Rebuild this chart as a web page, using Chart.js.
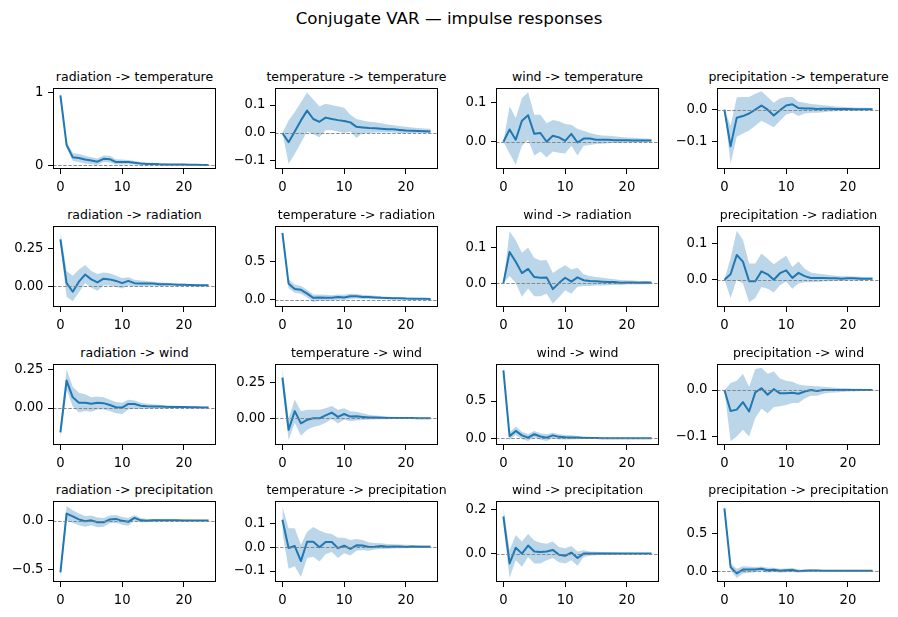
<!DOCTYPE html>
<html>
<head>
<meta charset="utf-8">
<script src="https://cdn.jsdelivr.net/npm/chart.js@4.4.1/dist/chart.umd.min.js"></script>
<style>
  body { margin: 0; background: #fff; }
  #fig { position: relative; width: 898px; height: 617px; overflow: hidden;
         font-family: "DejaVu Sans", sans-serif; color: #000; }
  .suptitle { position: absolute; left: 0; top: 10px; width: 898px; text-align: center;
              font-size: 16.7px; line-height: 1; }
  .ax-title { position: absolute; font-size: 12.5px; line-height: 1; white-space: nowrap;
              transform: translateX(-50%); }
  .panel { position: absolute; }
</style>
</head>
<body>
<div id="fig">
  <div class="suptitle">Conjugate VAR — impulse responses</div>
</div>
<script>
/* ============================================================
   Conjugate VAR — 4x4 grid of impulse responses with bands
   ============================================================ */

const SHOCKS = ['radiation', 'temperature', 'wind', 'precipitation'];     // columns
const RESPONSES = ['temperature', 'radiation', 'wind', 'precipitation'];  // rows
const HORIZONS = [0, 1, 2, 3, 4, 5, 6, 7, 8, 9, 10, 11, 12, 13, 14, 15, 16, 17, 18, 19, 20, 21, 22, 23, 24];
const X_TICKS = [0, 10, 20];

// ─── Responses of temperature ─────────────────────────────────────────────────
const RAD_TEMP    = [0.96, 0.28, 0.11, 0.10, 0.08, 0.065, 0.05, 0.09, 0.085, 0.045, 0.045, 0.045, 0.035, 0.025, 0.02, 0.02, 0.015, 0.012, 0.01, 0.01, 0.01, 0.008, 0.007, 0.006, 0.005];
const RAD_TEMP_LO = [0.93, 0.24, 0.06, 0.045, 0.025, 0.02, 0.005, 0.045, 0.04, 0.01, 0.01, 0.015, 0.01, 0.005, 0.003, 0.003, 0.002, 0.001, 0.001, 0.001, 0.001, 0.001, 0.001, 0.001, 0.001];
const RAD_TEMP_HI = [1.0, 0.32, 0.17, 0.155, 0.13, 0.11, 0.095, 0.135, 0.13, 0.085, 0.08, 0.075, 0.06, 0.045, 0.038, 0.035, 0.028, 0.024, 0.02, 0.018, 0.017, 0.014, 0.012, 0.011, 0.01];

const TEMP_TEMP    = [0, -0.033, 0.005, 0.045, 0.08, 0.05, 0.04, 0.055, 0.05, 0.046, 0.043, 0.038, 0.022, 0.02, 0.018, 0.017, 0.015, 0.013, 0.013, 0.011, 0.009, 0.008, 0.007, 0.006, 0.005];
const TEMP_TEMP_LO = [0, -0.11, -0.075, -0.035, 0.005, -0.005, -0.015, 0.01, 0.01, 0.005, 0, 0.005, -0.018, 0, 0, 0.002, 0.002, 0.002, 0.002, 0, 0, 0, 0, 0, 0];
const TEMP_TEMP_HI = [0, 0.045, 0.075, 0.11, 0.145, 0.12, 0.095, 0.105, 0.1, 0.095, 0.09, 0.065, 0.05, 0.045, 0.04, 0.038, 0.035, 0.03, 0.028, 0.025, 0.022, 0.02, 0.018, 0.016, 0.015];

const WIND_TEMP    = [0, 0.031, 0.005, 0.053, 0.067, 0.02, 0.022, 0, 0.015, 0.011, 0.002, 0.02, -0.002, 0.008, 0.008, 0.005, 0.005, 0.005, 0.004, 0.004, 0.004, 0.003, 0.003, 0.003, 0.003];
const WIND_TEMP_LO = [0, -0.03, -0.058, -0.01, 0.005, -0.035, -0.025, -0.04, -0.025, -0.028, -0.03, -0.01, -0.035, -0.01, -0.008, -0.006, -0.005, -0.004, -0.003, -0.003, -0.002, -0.002, -0.001, -0.001, -0.001];
const WIND_TEMP_HI = [0, 0.09, 0.06, 0.11, 0.125, 0.068, 0.068, 0.047, 0.055, 0.052, 0.045, 0.043, 0.032, 0.028, 0.022, 0.018, 0.016, 0.015, 0.014, 0.012, 0.011, 0.01, 0.009, 0.008, 0.007];

const PREC_TEMP    = [0, -0.115, -0.025, -0.02, -0.012, 0, 0.013, 0, -0.018, -0.002, 0.013, 0.017, 0.005, 0.004, 0.004, 0.002, 0.003, 0.003, 0.002, 0.002, 0.002, 0.001, 0.001, 0.001, 0.001];
const PREC_TEMP_LO = [0, -0.17, -0.085, -0.075, -0.065, -0.05, -0.035, -0.045, -0.055, -0.035, -0.015, -0.01, -0.02, -0.012, -0.01, -0.01, -0.008, -0.006, -0.005, -0.004, -0.003, -0.003, -0.002, -0.002, -0.002];
const PREC_TEMP_HI = [0, -0.05, 0.039, 0.04, 0.04, 0.05, 0.058, 0.04, 0.022, 0.035, 0.04, 0.04, 0.025, 0.022, 0.018, 0.016, 0.014, 0.012, 0.01, 0.009, 0.008, 0.007, 0.006, 0.006, 0.005];

// ─── Responses of radiation ───────────────────────────────────────────────────
const RAD_RAD    = [0.31, 0.02, -0.037, 0.03, 0.077, 0.045, 0.025, 0.05, 0.045, 0.035, 0.02, 0.035, 0.02, 0.017, 0.017, 0.017, 0.013, 0.012, 0.012, 0.01, 0.009, 0.008, 0.007, 0.006, 0.006];
const RAD_RAD_LO = [0.27, -0.07, -0.1, -0.04, 0.02, -0.01, -0.03, 0.005, 0.005, -0.005, -0.015, 0.005, -0.002, 0, 0.002, 0.003, 0.002, 0.002, 0.003, 0.002, 0.002, 0.002, 0.002, 0.001, 0.002];
const RAD_RAD_HI = [0.364, 0.1, 0.07, 0.11, 0.14, 0.1, 0.08, 0.09, 0.085, 0.07, 0.055, 0.06, 0.042, 0.038, 0.034, 0.03, 0.026, 0.022, 0.02, 0.018, 0.016, 0.014, 0.012, 0.011, 0.01];

const TEMP_RAD    = [0.878, 0.21, 0.14, 0.13, 0.08, 0.025, 0.03, 0.025, 0.025, 0.035, 0.03, 0.045, 0.045, 0.035, 0.035, 0.03, 0.025, 0.022, 0.02, 0.018, 0.015, 0.014, 0.012, 0.011, 0.01];
const TEMP_RAD_LO = [0.83, 0.15, 0.09, 0.08, 0.03, -0.03, -0.01, -0.015, -0.01, 0, -0.005, 0.01, 0.015, 0.01, 0.01, 0.008, 0.006, 0.005, 0.004, 0.004, 0.003, 0.003, 0.002, 0.002, 0.002];
const TEMP_RAD_HI = [0.92, 0.27, 0.2, 0.18, 0.13, 0.07, 0.07, 0.065, 0.06, 0.07, 0.065, 0.08, 0.075, 0.065, 0.06, 0.052, 0.045, 0.04, 0.036, 0.032, 0.028, 0.025, 0.022, 0.02, 0.018];

const WIND_RAD    = [0, 0.087, 0.06, 0.028, 0.04, 0.017, 0.015, 0.016, -0.017, 0, 0.015, 0.004, 0.016, 0.008, 0.006, 0.005, 0.004, 0.003, 0.003, 0.001, 0.002, 0.002, 0.001, 0.002, 0.001];
const WIND_RAD_LO = [0, 0.02, 0, -0.038, -0.015, -0.037, -0.037, -0.03, -0.057, -0.04, -0.02, -0.03, -0.01, -0.008, -0.008, -0.007, -0.007, -0.006, -0.005, -0.006, -0.004, -0.004, -0.004, -0.003, -0.003];
const WIND_RAD_HI = [0, 0.145, 0.12, 0.085, 0.1, 0.07, 0.063, 0.065, 0.028, 0.04, 0.05, 0.038, 0.043, 0.025, 0.02, 0.017, 0.015, 0.013, 0.011, 0.009, 0.008, 0.007, 0.006, 0.006, 0.005];

const PREC_RAD    = [0, 0.015, 0.068, 0.05, -0.004, -0.004, 0.023, 0.015, 0, 0.018, 0.026, 0.005, 0.019, 0.01, 0.005, 0.005, 0.005, 0.004, 0.004, 0.003, 0.004, 0.004, 0.003, 0.003, 0.003];
const PREC_RAD_LO = [0, -0.05, 0, -0.01, -0.062, -0.05, -0.02, -0.025, -0.035, -0.015, -0.005, -0.025, -0.01, -0.007, -0.007, -0.006, -0.005, -0.004, -0.003, -0.003, -0.002, -0.002, -0.002, -0.001, -0.001];
const PREC_RAD_HI = [0, 0.06, 0.135, 0.11, 0.045, 0.045, 0.072, 0.058, 0.043, 0.055, 0.066, 0.035, 0.05, 0.03, 0.02, 0.017, 0.015, 0.013, 0.011, 0.01, 0.01, 0.009, 0.008, 0.007, 0.007];

// ─── Responses of wind ────────────────────────────────────────────────────────
const RAD_WIND    = [-0.16, 0.18, 0.07, 0.035, 0.035, 0.028, 0.035, 0.032, 0.02, 0.005, 0.003, 0.027, 0.026, 0.015, 0.012, 0.01, 0.01, 0.008, 0.007, 0.006, 0.006, 0.005, 0.005, 0.004, 0.004];
const RAD_WIND_LO = [-0.21, 0.12, 0.01, -0.03, -0.02, -0.025, -0.01, -0.01, -0.02, -0.035, -0.04, -0.01, -0.005, -0.005, -0.004, -0.004, -0.003, -0.003, -0.002, -0.002, -0.001, -0.001, 0, 0, 0];
const RAD_WIND_HI = [-0.12, 0.254, 0.14, 0.1, 0.09, 0.07, 0.075, 0.07, 0.055, 0.04, 0.035, 0.055, 0.05, 0.035, 0.028, 0.024, 0.021, 0.018, 0.016, 0.014, 0.013, 0.011, 0.01, 0.009, 0.008];

const TEMP_WIND    = [0.282, -0.08, 0.05, -0.035, -0.01, 0, 0, 0.02, 0.04, 0.01, 0.03, 0.012, 0.014, 0.01, 0.006, 0.005, 0.004, 0.002, 0.003, 0.002, 0.002, 0.002, 0.001, 0.001, 0.001];
const TEMP_WIND_LO = [0.22, -0.15, -0.03, -0.12, -0.08, -0.06, -0.05, -0.03, -0.005, -0.035, -0.01, -0.02, -0.015, -0.012, -0.01, -0.008, -0.006, -0.006, -0.005, -0.004, -0.003, -0.003, -0.003, -0.003, -0.002];
const TEMP_WIND_HI = [0.35, 0, 0.13, 0.05, 0.06, 0.06, 0.06, 0.07, 0.085, 0.06, 0.07, 0.05, 0.045, 0.035, 0.025, 0.02, 0.016, 0.012, 0.011, 0.009, 0.008, 0.007, 0.006, 0.005, 0.005];

const WIND_WIND    = [0.91, 0.03, 0.1, 0.04, 0.01, 0.055, 0.025, 0.01, 0.04, 0.02, 0.015, 0.012, 0.01, 0.006, 0.005, 0.004, 0.003, 0.003, 0.002, 0.002, 0.002, 0.002, 0.001, 0.001, 0.001];
const WIND_WIND_LO = [0.89, -0.02, 0.045, -0.01, -0.035, 0.01, -0.02, -0.035, 0, -0.015, -0.015, -0.015, -0.012, -0.01, -0.008, -0.007, -0.006, -0.005, -0.004, -0.004, -0.003, -0.003, -0.002, -0.002, -0.002];
const WIND_WIND_HI = [0.93, 0.08, 0.16, 0.09, 0.06, 0.1, 0.07, 0.055, 0.075, 0.055, 0.045, 0.04, 0.03, 0.025, 0.02, 0.016, 0.013, 0.011, 0.01, 0.009, 0.008, 0.007, 0.006, 0.005, 0.005];

const PREC_WIND    = [0, -0.045, -0.042, -0.026, -0.046, -0.005, 0.004, -0.01, 0.002, -0.007, -0.007, -0.006, -0.008, -0.003, 0, -0.002, 0, 0, 0, 0, 0, 0, 0, 0, 0];
const PREC_WIND_LO = [0, -0.11, -0.1, -0.085, -0.1, -0.06, -0.04, -0.05, -0.037, -0.035, -0.032, -0.028, -0.028, -0.018, -0.012, -0.012, -0.008, -0.006, -0.005, -0.004, -0.003, -0.003, -0.002, -0.002, -0.002];
const PREC_WIND_HI = [0, 0.015, 0.02, 0.035, 0.007, 0.045, 0.048, 0.035, 0.04, 0.025, 0.02, 0.018, 0.012, 0.01, 0.009, 0.008, 0.007, 0.006, 0.005, 0.004, 0.004, 0.003, 0.003, 0.002, 0.002];

// ─── Responses of precipitation ───────────────────────────────────────────────
const RAD_PREC    = [-0.53, 0.075, 0.045, 0.015, -0.005, 0.005, -0.015, -0.015, 0.015, 0.02, 0, -0.01, 0.03, 0.005, 0, 0.005, 0.005, 0.005, 0.005, 0.005, 0.004, 0.004, 0.004, 0.004, 0.003];
const RAD_PREC_LO = [-0.6, 0, -0.02, -0.045, -0.06, -0.045, -0.065, -0.06, -0.025, -0.02, -0.04, -0.05, 0, -0.015, -0.015, -0.01, -0.007, -0.005, -0.004, -0.003, -0.003, -0.002, -0.002, -0.001, -0.001];
const RAD_PREC_HI = [-0.47, 0.153, 0.11, 0.075, 0.05, 0.055, 0.035, 0.03, 0.055, 0.06, 0.04, 0.03, 0.06, 0.03, 0.02, 0.02, 0.017, 0.015, 0.013, 0.012, 0.011, 0.01, 0.009, 0.008, 0.007];

const TEMP_PREC    = [0.115, -0.003, 0.005, -0.058, 0.023, 0.023, 0, 0.022, 0.022, -0.004, 0.007, -0.007, 0.008, 0.007, 0.001, 0.002, 0.005, 0.002, 0.003, 0.003, 0.001, 0.003, 0.002, 0.002, 0.002];
const TEMP_PREC_LO = [0.06, -0.09, -0.08, -0.125, -0.045, -0.04, -0.06, -0.03, -0.02, -0.045, -0.025, -0.035, -0.015, -0.012, -0.015, -0.01, -0.007, -0.007, -0.005, -0.004, -0.004, -0.003, -0.003, -0.002, -0.002];
const TEMP_PREC_HI = [0.171, 0.08, 0.08, 0.01, 0.065, 0.085, 0.07, 0.06, 0.055, 0.04, 0.04, 0.03, 0.035, 0.03, 0.02, 0.018, 0.017, 0.014, 0.012, 0.011, 0.01, 0.009, 0.008, 0.007, 0.007];

const WIND_PREC    = [0.17, -0.045, 0.027, 0, 0.037, 0.01, 0.007, 0.01, 0.017, -0.005, -0.01, 0.005, -0.02, 0, 0, 0, 0, 0, 0, 0.001, 0.001, 0.001, 0.001, 0.001, 0.001];
const WIND_PREC_LO = [0.13, -0.11, -0.03, -0.06, -0.015, -0.045, -0.045, -0.03, -0.02, -0.04, -0.045, -0.03, -0.055, -0.015, -0.01, -0.008, -0.006, -0.005, -0.004, -0.003, -0.003, -0.002, -0.002, -0.002, -0.001];
const WIND_PREC_HI = [0.21, 0.015, 0.085, 0.055, 0.09, 0.06, 0.05, 0.045, 0.055, 0.03, 0.025, 0.035, 0.01, 0.015, 0.01, 0.008, 0.007, 0.006, 0.005, 0.004, 0.004, 0.003, 0.003, 0.003, 0.002];

const PREC_PREC    = [0.826, 0.052, -0.03, 0.02, 0.02, 0.02, 0.03, 0.012, 0.017, 0.005, 0.01, 0.015, 0, 0.005, 0.008, 0.007, 0.006, 0.006, 0.006, 0.005, 0.005, 0.005, 0.004, 0.004, 0.004];
const PREC_PREC_LO = [0.78, 0.01, -0.09, -0.03, -0.02, -0.015, 0, -0.02, -0.01, -0.02, -0.015, -0.01, -0.02, -0.01, -0.005, -0.003, -0.002, -0.002, 0, 0, 0, 0, 0, 0, 0];
const PREC_PREC_HI = [0.875, 0.1, 0.03, 0.065, 0.06, 0.055, 0.06, 0.045, 0.045, 0.03, 0.035, 0.04, 0.02, 0.02, 0.02, 0.017, 0.015, 0.014, 0.012, 0.011, 0.01, 0.01, 0.009, 0.008, 0.008];

// Per-panel y tick values / labels, row by row
const Y_TICKS = [
  [[0, 1], [-0.1, 0, 0.1], [0, 0.1], [-0.1, 0]],
  [[0, 0.25], [0, 0.5], [0, 0.1], [0, 0.1]],
  [[0, 0.25], [0, 0.25], [0, 0.5], [-0.1, 0]],
  [[-0.5, 0], [-0.1, 0, 0.1], [0, 0.2], [0, 0.5]],
];
const Y_TICK_LABELS = [
  [['0', '1'], ['\u22120.1', '0.0', '0.1'], ['0.0', '0.1'], ['\u22120.1', '0.0']],
  [['0.00', '0.25'], ['0.0', '0.5'], ['0.0', '0.1'], ['0.0', '0.1']],
  [['0.00', '0.25'], ['0.00', '0.25'], ['0.0', '0.5'], ['\u22120.1', '0.0']],
  [['\u22120.5', '0.0'], ['\u22120.1', '0.0', '0.1'], ['0.0', '0.2'], ['0.0', '0.5']],
];
// Axis limits (matplotlib autoscale with 5% margins)
const Y_LIMITS = [
  [[-0.05, 1.06], [-0.129, 0.161], [-0.069, 0.136], [-0.186, 0.068]],
  [[-0.138, 0.399], [-0.096, 0.97], [-0.067, 0.16], [-0.075, 0.148]],
  [[-0.243, 0.289], [-0.185, 0.377], [-0.089, 0.996], [-0.118, 0.056]],
  [[-0.629, 0.204], [-0.146, 0.194], [-0.13, 0.241], [-0.143, 0.922]],
];
const X_LIMITS = [-1.2, 25.2];

const PANEL_DATA = [
  [[RAD_TEMP, RAD_TEMP_LO, RAD_TEMP_HI], [TEMP_TEMP, TEMP_TEMP_LO, TEMP_TEMP_HI], [WIND_TEMP, WIND_TEMP_LO, WIND_TEMP_HI], [PREC_TEMP, PREC_TEMP_LO, PREC_TEMP_HI]],
  [[RAD_RAD, RAD_RAD_LO, RAD_RAD_HI], [TEMP_RAD, TEMP_RAD_LO, TEMP_RAD_HI], [WIND_RAD, WIND_RAD_LO, WIND_RAD_HI], [PREC_RAD, PREC_RAD_LO, PREC_RAD_HI]],
  [[RAD_WIND, RAD_WIND_LO, RAD_WIND_HI], [TEMP_WIND, TEMP_WIND_LO, TEMP_WIND_HI], [WIND_WIND, WIND_WIND_LO, WIND_WIND_HI], [PREC_WIND, PREC_WIND_LO, PREC_WIND_HI]],
  [[RAD_PREC, RAD_PREC_LO, RAD_PREC_HI], [TEMP_PREC, TEMP_PREC_LO, TEMP_PREC_HI], [WIND_PREC, WIND_PREC_LO, WIND_PREC_HI], [PREC_PREC, PREC_PREC_LO, PREC_PREC_HI]],
];

// ─── Layout (pixels) ──────────────────────────────────────────────────────────
const COL_LEFT = [53, 275, 496, 717];
const ROW_TOP = [88, 226, 364, 501];
const AX_W = 163;
const AX_H = 81;
const PAD_L = 50, PAD_R = 10, PAD_T = 16, PAD_B = 28;

const C0 = '#1f77b4';
const BAND = 'rgba(31, 119, 180, 0.3)';
const TICK_FONT = { family: 'DejaVu Sans', size: 13.2 };

// ─── Plugin: matplotlib-style frame + dashed zero line ────────────────────────
const mplAxes = {
  id: 'mplAxes',
  afterDatasetsDraw(chart) {
    const { ctx, chartArea: a, scales: { y } } = chart;
    const y0 = Math.round(y.getPixelForValue(0)) + 0.5;
    ctx.save();
    ctx.strokeStyle = 'gray';
    ctx.lineWidth = 0.9;
    ctx.setLineDash([3.5, 1.6]);
    ctx.beginPath();
    ctx.moveTo(a.left, y0);
    ctx.lineTo(a.right, y0);
    ctx.stroke();
    ctx.restore();
  },
  afterDraw(chart) {
    const { ctx, chartArea: a } = chart;
    ctx.save();
    ctx.strokeStyle = '#000';
    ctx.lineWidth = 1;
    ctx.strokeRect(a.left + 0.5, a.top + 0.5, a.width - 1, a.height - 1);
    ctx.restore();
  },
};

function toPoints(values) {
  return HORIZONS.map((h, i) => ({ x: h, y: values[i] }));
}

function tickAxis(values, labels, extra) {
  return Object.assign({
    type: 'linear',
    afterBuildTicks: s => { s.ticks = values.map(v => ({ value: v })); },
    ticks: {
      color: '#000',
      font: TICK_FONT,
      autoSkip: false,
      maxRotation: 0,
      callback: v => labels[values.indexOf(v)],
    },
    grid: { display: true, drawOnChartArea: false, drawTicks: true, tickLength: 5, color: '#000', lineWidth: 1 },
    border: { display: false },
  }, extra);
}

function renderPanel(row, col) {
  const fig = document.getElementById('fig');
  const [mid, lo, hi] = PANEL_DATA[row][col];
  const [ymin, ymax] = Y_LIMITS[row][col];

  const title = document.createElement('div');
  title.className = 'ax-title';
  title.textContent = `${SHOCKS[col]} -> ${RESPONSES[row]}`;
  title.style.left = (COL_LEFT[col] + AX_W / 2) + 'px';
  title.style.top = (ROW_TOP[row] - 17.5) + 'px';
  fig.appendChild(title);

  const wrap = document.createElement('div');
  wrap.className = 'panel';
  const canvas = document.createElement('canvas');
  canvas.width = PAD_L + AX_W + PAD_R;
  canvas.height = PAD_T + AX_H + PAD_B;
  wrap.appendChild(canvas);
  fig.appendChild(wrap);

  const xLabels = X_TICKS.map(String);
  const chart = new Chart(canvas, {
    type: 'line',
    data: {
      datasets: [
        { data: toPoints(lo), borderWidth: 0, pointRadius: 0, fill: false },
        { data: toPoints(hi), borderWidth: 0, pointRadius: 0, fill: '-1', backgroundColor: BAND },
        { data: toPoints(mid), borderColor: C0, borderWidth: 2, pointRadius: 0, fill: false,
          borderJoinStyle: 'round', tension: 0 },
      ],
    },
    options: {
      responsive: false,
      animation: false,
      events: [],
      layout: { padding: { top: PAD_T, right: PAD_R, left: 0, bottom: 0 } },
      plugins: {
        legend: { display: false },
        tooltip: { enabled: false },
        filler: { drawTime: 'beforeDatasetsDraw' },
      },
      scales: {
        x: tickAxis(X_TICKS, xLabels, {
          min: X_LIMITS[0], max: X_LIMITS[1],
          afterFit: s => { s.height = PAD_B; },
        }),
        y: tickAxis(Y_TICKS[row][col], Y_TICK_LABELS[row][col], {
          min: ymin, max: ymax,
          afterFit: s => { s.width = PAD_L; },
        }),
      },
    },
    plugins: [mplAxes],
  });
  chart.options.scales.x.ticks.padding = 6;
  chart.options.scales.y.ticks.padding = 4.5;
  chart.update('none');

  // Pin the plot area exactly where the reference has it
  const a = chart.chartArea;
  wrap.style.left = (COL_LEFT[col] - a.left) + 'px';
  wrap.style.top = (ROW_TOP[row] - a.top) + 'px';
}

// ─── Boot ─────────────────────────────────────────────────────────────────────
RESPONSES.forEach((_, row) => SHOCKS.forEach((_, col) => renderPanel(row, col)));
</script>
</body>
</html>
